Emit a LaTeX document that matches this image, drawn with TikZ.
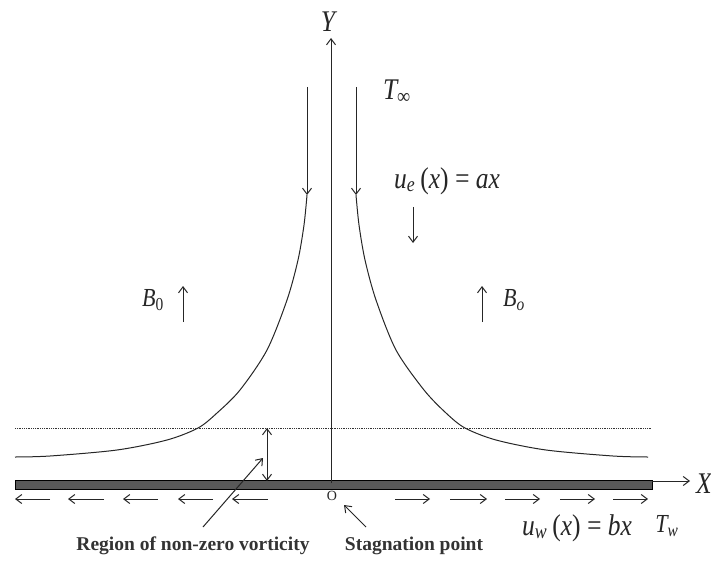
\documentclass[tikz,border=0pt]{standalone}
\usepackage{fontspec}
\setmainfont{Liberation Serif}
\newfontfamily\condser[FakeStretch=0.85]{Liberation Serif}
\usetikzlibrary{arrows.meta}
\begin{document}
\begin{tikzpicture}[x=1pt,y=-1pt,
  ln/.style={line width=1pt, black!85},
  tip/.style={-{Straight Barb[length=6pt,width=9pt]}},
  dtip/.style={{Straight Barb[length=6pt,width=9pt]}-{Straight Barb[length=6pt,width=9pt]}},
  lbl/.style={inner sep=0pt, font=\fontsize{19.5}{21}\selectfont\bfseries, text=black!80},
  mth/.style={inner sep=0pt, font=\condser\fontsize{30}{32}\selectfont\itshape, text=black!85},
  sml/.style={inner sep=0pt, font=\condser\fontsize{26}{28}\selectfont\itshape, text=black!85}]
\useasboundingbox (0,0) rectangle (711,561);
% coordinates
\coordinate (o) at (331,483);
\coordinate (ytop) at (331,38);
\coordinate (xs) at (652,481);
\coordinate (xe) at (690,481);
% plate
\draw[line width=0.8pt, fill=black!65] (15,480) rectangle (652,489);
% dotted edge of boundary layer
\draw[line width=1pt, black!80, dash pattern=on 1pt off 0.8pt] (15,428) -- (652,428);
% axes
\draw[ln,tip] (o) -- (ytop);
\draw[ln,tip] (xs) -- (xe);
\node[mth] (Y) at (328,22) {Y};
\node[mth] (X) at (704,484) {X};
% streamlines
\draw[ln,tip] (307,87) -- (307,195);
\draw[ln] plot[smooth] coordinates {(307,195) (304,225) (298,260) (287,300) (267,350) (240,390) (217,413) (198,428) (167,440) (117,450) (50,456) (15,457)};
\draw[ln,tip] (356,87) -- (356,195);
\draw[ln] plot[smooth] coordinates {(356,195) (359,225) (365,260) (376,300) (396,350) (424,390) (446,413) (465,428) (496,440) (546,450) (613,456) (648,457)};
% labels top
\node[mth,anchor=west] (Tinf) at (383,92) {T\textsubscript{∞}};
\node[mth] (ue) at (447,181) {u\textsubscript{e}\,{\upshape(}x{\upshape)}\,=\,ax};
\coordinate (d1) at (413,207);
\coordinate (d2) at (413,243);
\draw[ln,tip] (d1) -- (d2);
% magnetic field
\node[sml] (B0) at (153,300) {B\textsubscript{\upshape 0}};
\coordinate (b1s) at (183,322); \coordinate (b1e) at (183,286);
\draw[ln,tip] (b1s) -- (b1e);
\node[sml] (Bo) at (514,300) {B\textsubscript{o}};
\coordinate (b2s) at (482,322); \coordinate (b2e) at (482,286);
\draw[ln,tip] (b2s) -- (b2e);
% boundary layer thickness
\coordinate (t1) at (267,428); \coordinate (t2) at (267,481);
\draw[ln,dtip] (t1) -- (t2);
% wall velocity arrows
\foreach \a/\b in {15/50,68/104,123/158,178/213,232/268}
  \draw[ln,tip] (\b,499) -- (\a,499);
\foreach \a/\b in {395/430,450/487,505/540,560/595,613/648}
  \draw[ln,tip] (\a,499) -- (\b,499);
% origin
\node[inner sep=0pt, font=\fontsize{14}{15}\selectfont, text=black!85] (O) at (332,496) {O};
% bottom labels
\node[lbl] (reg) at (193,546) {Region of non-zero vorticity};
\coordinate (rs) at (203,527); \coordinate (re) at (263,458);
\draw[ln,tip] (rs) -- (re);
\node[lbl] (stag) at (414,546) {Stagnation point};
\coordinate (ss) at (366,527); \coordinate (se) at (344,505);
\draw[ln,tip] (ss) -- (se);
\node[mth] (uw) at (577,528) {u\textsubscript{w}\,{\upshape(}x{\upshape)}\,=\,bx};
\node[sml] (Tw) at (667,526) {T\textsubscript{w}};
\end{tikzpicture}
\end{document}
